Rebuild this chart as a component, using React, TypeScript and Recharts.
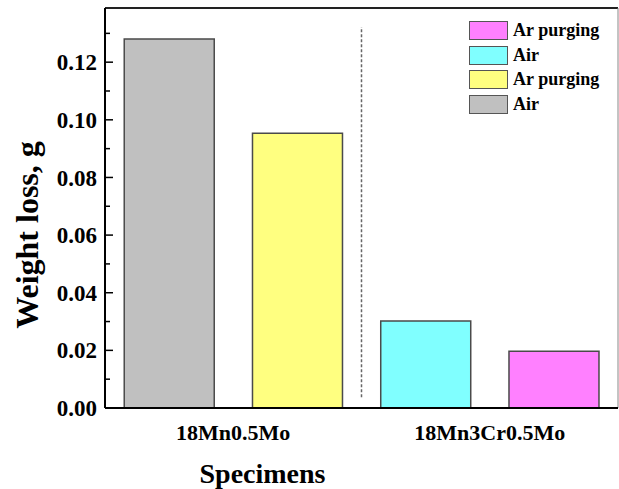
import {
  BarChart,
  Bar,
  Cell,
  XAxis,
  YAxis,
  Legend,
  Label,
  ReferenceLine,
} from "recharts";

// weight loss per specimen / atmosphere, left to right
const slots = ["18Mn0.5Mo-Air", "18Mn0.5Mo-Ar", "18Mn3Cr0.5Mo-Air", "18Mn3Cr0.5Mo-Ar"];
const conditions = ["Air", "Ar purging", "Air", "Ar purging"];
const weightLoss = [0.128, 0.0953, 0.0302, 0.0197];

// each steel covers two neighbouring slots
const specimens = ["18Mn0.5Mo", "18Mn3Cr0.5Mo"];

const yTicks = [0, 0.01, 0.02, 0.03, 0.04, 0.05, 0.06, 0.07, 0.08, 0.09, 0.1, 0.11, 0.12, 0.13];
const yMax = 0.1388;

const barFills = ["#C0C0C0", "#FFFF80", "#80FFFF", "#FF80FF"];

const data = slots.map((slot, i) => ({
  slot,
  condition: conditions[i],
  loss: weightLoss[i],
}));

const FONT = '"Times New Roman", "Liberation Serif", serif';
const TICK_MARGIN = 8;
const CHART_W = 619;
const Y_AXIS_W = 105;
const MARGIN_R = 1;
const BAND = (CHART_W - Y_AXIS_W - MARGIN_R) / slots.length;

const YTick = ({ x, y, payload }: any) => {
  const v = payload.value as number;
  const major = Math.round(v * 100) % 2 === 0;
  const ax = x + TICK_MARGIN;
  return (
    <g>
      <line x1={ax} x2={ax + (major ? 8 : 5)} y1={y} y2={y} stroke="#000" strokeWidth={1.5} />
      {major && (
        <text
          x={x}
          y={y}
          dy="0.35em"
          textAnchor="end"
          fontFamily={FONT}
          fontWeight="bold"
          fontSize={23}
          fill="#000"
        >
          {v.toFixed(2)}
        </text>
      )}
    </g>
  );
};

// one label per steel, centred between its two bars
const XTick = ({ x, y, index }: any) => {
  if (index % 2 !== 0) return null;
  return (
    <text
      x={x + BAND / 2}
      y={y}
      dy="0.9em"
      textAnchor="middle"
      fontFamily={FONT}
      fontWeight="bold"
      fontSize={22}
      fill="#000"
    >
      {specimens[index / 2]}
    </text>
  );
};

// legend lists the bars right-to-left
const LegendBox = () => (
  <div style={{ fontFamily: FONT, fontWeight: "bold", fontSize: 18, color: "#000" }}>
    {[...conditions].reverse().map((name, i) => (
      <div key={i} style={{ display: "flex", alignItems: "center", height: 24.7 }}>
        <span
          style={{
            width: 37,
            height: 17,
            background: [...barFills].reverse()[i],
            border: "1px solid #555",
            marginRight: 5,
          }}
        />
        <span>{name}</span>
      </div>
    ))}
  </div>
);

const App = () => {
  return (
    <div style={{ position: "absolute", left: 0, top: 0, background: "#fff" }}>
      <BarChart
        width={CHART_W}
        height={489}
        data={data}
        margin={{ top: 8, right: MARGIN_R, bottom: 0, left: 0 }}
        barCategoryGap="15%"
      >
        <XAxis
          xAxisId="slots"
          dataKey="slot"
          height={81}
          interval={0}
          axisLine={{ stroke: "#000", strokeWidth: 2 }}
          tickLine={false}
          tickSize={0}
          tickMargin={12}
          tick={<XTick />}
        >
          <Label
            content={({ viewBox }: any) => (
              <text
                x={viewBox.x + 157.5}
                y={viewBox.y + 75}
                textAnchor="middle"
                fontFamily={FONT}
                fontWeight="bold"
                fontSize={28}
                fill="#000"
              >
                Specimens
              </text>
            )}
          />
        </XAxis>
        <YAxis
          yAxisId="w"
          domain={[0, yMax]}
          allowDataOverflow
          ticks={yTicks}
          interval={0}
          width={Y_AXIS_W}
          axisLine={{ stroke: "#000", strokeWidth: 2 }}
          tickLine={false}
          tickSize={0}
          tickMargin={TICK_MARGIN}
          tick={<YTick />}
        >
          <Label
            content={({ viewBox }: any) => {
              const cx = viewBox.x + 38;
              const cy = viewBox.y + viewBox.height / 2 + 27;
              return (
                <text
                  x={cx}
                  y={cy}
                  transform={`rotate(-90, ${cx}, ${cy})`}
                  textAnchor="middle"
                  fontFamily={FONT}
                  fontWeight="bold"
                  fontSize={32}
                  fill="#000"
                >
                  Weight loss, g
                </text>
              );
            }}
          />
        </YAxis>
        <Legend
          layout="vertical"
          align="center"
          verticalAlign="middle"
          wrapperStyle={{ top: 18, left: 469, width: 140 }}
          content={<LegendBox />}
        />
        {/* frame: top and right edges */}
        <ReferenceLine xAxisId="slots" yAxisId="w" y={yMax} stroke="#222" strokeWidth={2} />
        <ReferenceLine
          xAxisId="slots"
          yAxisId="w"
          x={slots[3]}
          position="end"
          stroke="#888"
          strokeWidth={1}
        />
        {/* divider between the two steels */}
        <ReferenceLine
          xAxisId="slots"
          yAxisId="w"
          position="start"
          segment={[
            { x: slots[2], y: 0.0037 },
            { x: slots[2], y: 0.1322 },
          ]}
          stroke="#666"
          strokeWidth={1.5}
          strokeDasharray="3 2"
        />
        <Bar
          xAxisId="slots"
          yAxisId="w"
          dataKey="loss"
          isAnimationActive={false}
          stroke="#4a4a4a"
          strokeWidth={1.5}
        >
          {data.map((d, i) => (
            <Cell key={d.slot} fill={barFills[i]} />
          ))}
        </Bar>
      </BarChart>
    </div>
  );
};

export default App;
